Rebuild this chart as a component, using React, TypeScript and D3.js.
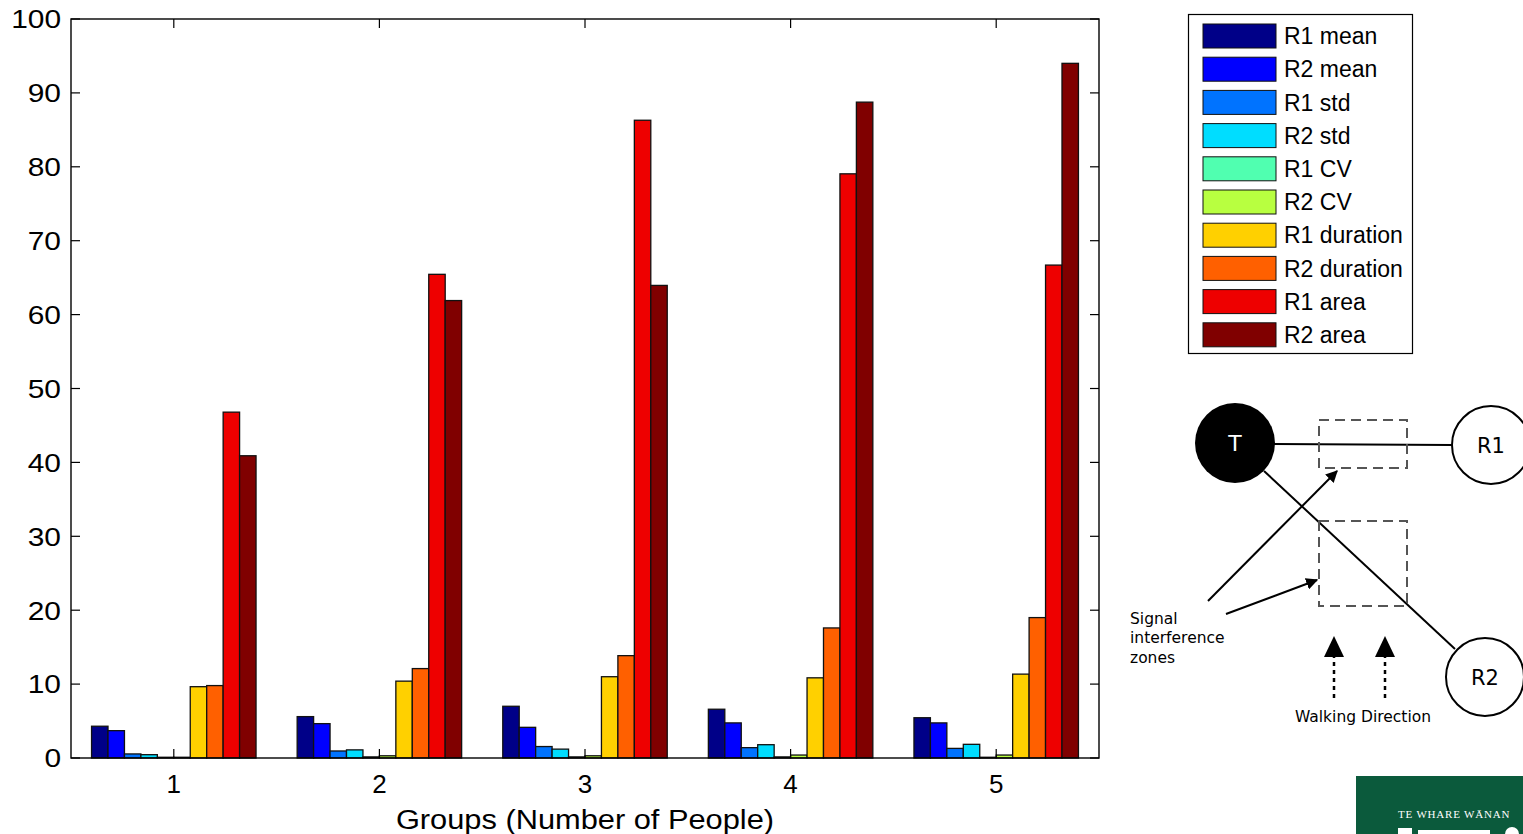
import React from 'react';
import * as d3 from 'd3';

const groups = [1, 2, 3, 4, 5];
const seriesNames = ['R1 mean', 'R2 mean', 'R1 std', 'R2 std', 'R1 CV', 'R2 CV', 'R1 duration', 'R2 duration', 'R1 area', 'R2 area'];
const seriesColors = ['#000088', '#0000ff', '#0073ff', '#00ddff', '#50ffb0', '#b8ff40', '#ffd000', '#ff6000', '#ee0000', '#800000'];

const r1Mean = [4.3, 5.6, 7.0, 6.6, 5.45];
const r2Mean = [3.7, 4.65, 4.15, 4.75, 4.75];
const r1Std = [0.55, 0.95, 1.55, 1.4, 1.3];
const r2Std = [0.45, 1.1, 1.2, 1.8, 1.85];
const r1CV = [0.1, 0.15, 0.15, 0.15, 0.1];
const r2CV = [0.1, 0.3, 0.3, 0.4, 0.4];
const r1Duration = [9.65, 10.4, 11.0, 10.85, 11.35];
const r2Duration = [9.8, 12.1, 13.85, 17.6, 19.0];
const r1Area = [46.8, 65.45, 86.3, 79.05, 66.7];
const r2Area = [40.9, 61.9, 63.95, 88.75, 94.0];

const seriesValues = [r1Mean, r2Mean, r1Std, r2Std, r1CV, r2CV, r1Duration, r2Duration, r1Area, r2Area];

const yTicks = [0, 10, 20, 30, 40, 50, 60, 70, 80, 90, 100];
const xTitle = 'Groups (Number of People)';

const W = 1523;
const H = 834;
const left = 71, right = 1099, top = 19, bottom = 758;

export default function App() {
  const x = d3.scaleLinear().domain([0.5, 5.5]).range([left, right]);
  const y = d3.scaleLinear().domain([0, 100]).range([bottom, top]);
  const n = seriesNames.length;
  const groupWidth = 0.8;
  const barW = groupWidth / n;
  const tick = 9;
  const font = '"Liberation Sans", Arial, Helvetica, sans-serif';
  const dfont = '"DejaVu Sans", sans-serif';
  const cx = (left + right) / 2;

  return (
    <svg width={W} height={H} style={{ position: 'absolute', left: 0, top: 0, background: '#fff' }} xmlns="http://www.w3.org/2000/svg">
      <defs>
        <marker id="ah" viewBox="0 0 10 10" refX="9" refY="5" markerWidth="6" markerHeight="6" orient="auto-start-reverse" markerUnits="strokeWidth">
          <path d="M0,0 L10,5 L0,10 z" fill="#000" />
        </marker>
      </defs>
      <rect x={0} y={0} width={W} height={H} fill="#fff" />
      {/* bars */}
      {seriesValues.map((vals, si) =>
        vals.map((v, gi) => {
          const x0 = x(groups[gi] - groupWidth / 2 + si * barW);
          const x1 = x(groups[gi] - groupWidth / 2 + (si + 1) * barW);
          return (
            <rect key={`${si}-${gi}`} x={x0} y={y(v)} width={x1 - x0} height={y(0) - y(v)}
              fill={seriesColors[si]} stroke="#111" strokeWidth={1.3} />
          );
        })
      )}
      {/* frame */}
      <rect x={left} y={top} width={right - left} height={bottom - top} fill="none" stroke="#000" strokeWidth={1.4} />
      {/* y ticks */}
      {yTicks.map((t) => (
        <g key={`y${t}`}>
          <line x1={left} x2={left + tick} y1={y(t)} y2={y(t)} stroke="#000" strokeWidth={1.2} />
          <line x1={right} x2={right - tick} y1={y(t)} y2={y(t)} stroke="#000" strokeWidth={1.2} />
          <text x={61} y={y(t)} dy="0.36em" textAnchor="end" fontFamily={font} fontSize={26} fill="#000"
            transform={`translate(61,0) scale(1.15,1) translate(-61,0)`}>{t}</text>
        </g>
      ))}
      {/* x ticks */}
      {groups.map((g) => (
        <g key={`x${g}`}>
          <line x1={x(g)} x2={x(g)} y1={bottom} y2={bottom - tick} stroke="#000" strokeWidth={1.2} />
          <line x1={x(g)} x2={x(g)} y1={top} y2={top + tick} stroke="#000" strokeWidth={1.2} />
          <text x={x(g)} y={784} dy="0.36em" textAnchor="middle" fontFamily={font} fontSize={26} fill="#000">{g}</text>
        </g>
      ))}
      <text x={cx} y={819} dy="0.36em" textAnchor="middle" fontFamily={font} fontSize={28} fill="#000"
        transform={`translate(${cx},0) scale(1.1,1) translate(${-cx},0)`}>{xTitle}</text>

      {/* legend */}
      <rect x={1188.5} y={14.5} width={224} height={339} fill="#fff" stroke="#000" strokeWidth={1.2} />
      {seriesNames.map((name, i) => {
        const cy = 36 + i * 33.2;
        return (
          <g key={name}>
            <rect x={1203} y={cy - 12} width={73} height={24} fill={seriesColors[i]} stroke="#111" strokeWidth={1} />
            <text x={1284} y={cy} dy="0.36em" fontFamily={font} fontSize={23} fill="#000">{name}</text>
          </g>
        );
      })}

      {/* diagram */}
      <line x1={1274} y1={444} x2={1452} y2={445} stroke="#000" strokeWidth={2} />
      <line x1={1264} y1={471} x2={1455} y2={649} stroke="#000" strokeWidth={2} />
      <rect x={1319} y={420} width={88} height={48} fill="none" stroke="#555" strokeWidth={2} strokeDasharray="10,6" />
      <rect x={1319} y={521} width={88} height={85} fill="none" stroke="#555" strokeWidth={2} strokeDasharray="10,6" />
      <circle cx={1235} cy={443} r={40} fill="#000" />
      <text x={1235} y={443} dy="0.36em" textAnchor="middle" fontFamily={dfont} fontSize={22} fill="#fff">T</text>
      <circle cx={1491} cy={445} r={39} fill="#fff" stroke="#000" strokeWidth={2} />
      <text x={1491} y={445} dy="0.36em" textAnchor="middle" fontFamily={dfont} fontSize={21} fill="#000">R1</text>
      <circle cx={1485} cy={677} r={39} fill="#fff" stroke="#000" strokeWidth={2} />
      <text x={1485} y={677} dy="0.36em" textAnchor="middle" fontFamily={dfont} fontSize={21} fill="#000">R2</text>
      <line x1={1208} y1={601} x2={1337} y2={471} stroke="#000" strokeWidth={2} markerEnd="url(#ah)" />
      <line x1={1226} y1={614} x2={1317} y2={580} stroke="#000" strokeWidth={2} markerEnd="url(#ah)" />
      <text fontFamily={dfont} fontSize={15.5} fill="#000">
        <tspan x={1130} y={624}>Signal</tspan>
        <tspan x={1130} y={643}>interference</tspan>
        <tspan x={1130} y={663}>zones</tspan>
      </text>
      {[1334, 1385].map((ax) => (
        <g key={ax}>
          <line x1={ax} x2={ax} y1={698} y2={656} stroke="#000" strokeWidth={2.5} strokeDasharray="4,4" />
          <path d={`M${ax - 10},${657} L${ax},${636} L${ax + 10},${657} Z`} fill="#000" />
        </g>
      ))}
      <text x={1363} y={716} dy="0.36em" textAnchor="middle" fontFamily={dfont} fontSize={15.5} fill="#000">Walking Direction</text>

      {/* logo fragment */}
      <rect x={1356} y={776} width={167} height={58} fill="#0b5a3c" />
      <text x={1398} y={818} fontFamily='"Liberation Serif", serif' fontSize={11} letterSpacing={0.8} fill="#fff">TE WHARE WĀNAN</text>
      <rect x={1398} y={828} width={14} height={6} fill="#fff" />
      <rect x={1418} y={830} width={72} height={4} fill="#fff" />
      <circle cx={1512} cy={834} r={7} fill="#fff" />
    </svg>
  );
}
